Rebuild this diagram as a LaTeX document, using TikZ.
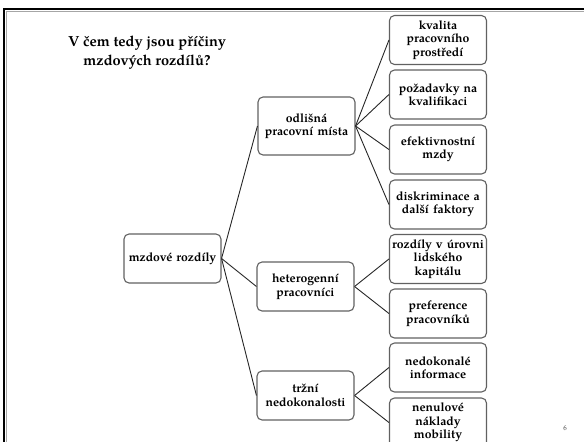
\documentclass[tikz,border=0pt]{standalone}
\usepackage{fontspec}
\setmainfont{TeX Gyre Pagella}
\begin{document}
\begin{tikzpicture}[x=1pt,y=-1pt,
  box/.style={draw=black!62, line width=1.1pt, rounded corners=5pt, fill=white,
    font=\bfseries\fontsize{12.2}{13.4}\selectfont, align=center,
    text width=94pt, inner sep=0pt, minimum width=97pt, minimum height=49pt},
  link/.style={draw=black!85, line width=0.9pt}]
\useasboundingbox (0,0) rectangle (584,442);
\clip (0,0) rectangle (584,442);
% slide frame
\draw[black!35, line width=1pt] (6.5,442) -- (6.5,11.5) -- (584,11.5);
\draw[black, line width=2.6pt] (4,442) -- (4,9) -- (584,9);
% title
\node[font=\bfseries\fontsize{14.6}{19}\selectfont, align=center] (title) at (147,53)
  {V čem tedy jsou příčiny\\mzdových rozdílů?};
% nodes
\node[box] (root) at (172.5,258.5) {mzdové rozdíly};
\node[box, minimum height=58pt] (odl) at (306.5,126) {odlišná\\pracovní místa};
\node[box] (het) at (305.5,286.5) {heterogenní\\pracovníci};
\node[box] (trz) at (305.5,395.5) {tržní\\nedokonalosti};
\node[box] (r1) at (438,40) {kvalita\\pracovního\\prostředí};
\node[box] (r2) at (438,94.5) {požadavky na\\kvalifikaci};
\node[box] (r3) at (438,149.5) {efektivnostní\\mzdy};
\node[box] (r4) at (438,204.5) {diskriminace a\\další faktory};
\node[box] (r5) at (438,259) {rozdíly v úrovni\\lidského\\kapitálu};
\node[box] (r6) at (438,313.5) {preference\\pracovníků};
\node[box] (r7) at (438,367.5) {nedokonalé\\informace};
\node[box] (r8) at (438,422.5) {nenulové\\náklady\\mobility};
% connectors
\draw[link] (root.east) -- (odl.west);
\draw[link] (root.east) -- (het.west);
\draw[link] (root.east) -- (trz.west);
\draw[link] (odl.east) -- (r1.west);
\draw[link] (odl.east) -- (r2.west);
\draw[link] (odl.east) -- (r3.west);
\draw[link] (odl.east) -- (r4.west);
\draw[link] (het.east) -- (r5.west);
\draw[link] (het.east) -- (r6.west);
\draw[link] (trz.east) -- (r7.west);
\draw[link] (trz.east) -- (r8.west);
% page number
\node[font=\fontsize{7}{8}\selectfont, text=black!70] (pg) at (565,428) {6};
\end{tikzpicture}
\end{document}
